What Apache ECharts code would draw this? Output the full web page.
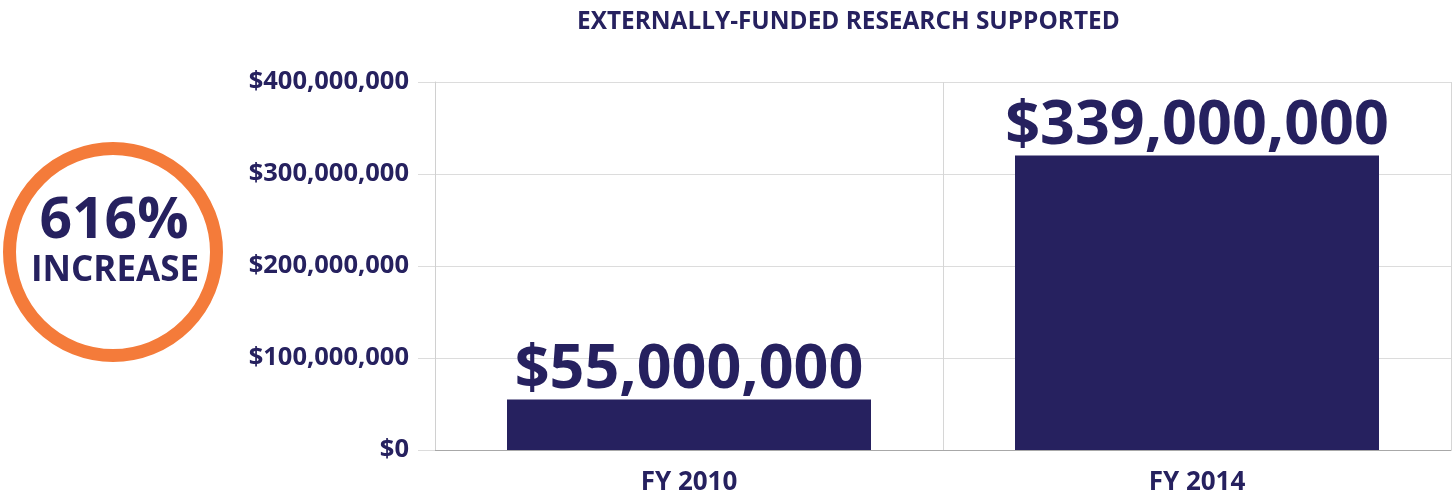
<!DOCTYPE html>
<html>
<head>
<meta charset="utf-8">
<script src="https://cdn.jsdelivr.net/npm/echarts@6/dist/echarts.min.js"></script>
<style>html,body{margin:0;padding:0;background:#fff;}#c{width:1452px;height:492px;}</style>
</head>
<body>
<div id="c"></div>
<script>
const categories = ['FY 2010', 'FY 2014'];
const values = [55000000, 320000000];
const valueLabels = ['$55,000,000', '$339,000,000'];
const yTicks = [0, 100000000, 200000000, 300000000, 400000000];
const titleText = 'EXTERNALLY-FUNDED RESEARCH SUPPORTED';
const badgeTop = '616%';
const badgeBottom = 'INCREASE';

const NAVY = '#26215f';
const FONT = '"Open Sans", sans-serif';

function fmt(v) {
  return '$' + v.toLocaleString('en-US');
}

const chart = echarts.init(document.getElementById('c'), null, {renderer: 'canvas'});
chart.setOption({
  animation: false,
  grid: {left: 435, right: 1, top: 82, bottom: 42, outerBoundsMode: 'none', containLabel: false},
  xAxis: {
    type: 'category',
    data: categories,
    axisLine: {show: true, lineStyle: {color: '#a8a8a8', width: 1}},
    axisTick: {show: false},
    splitLine: {show: true, lineStyle: {color: '#d6d6d6', width: 1}},
    axisLabel: {color: NAVY, fontFamily: FONT, fontWeight: 'bold', fontSize: 26, margin: 20}
  },
  yAxis: {
    type: 'value',
    min: yTicks[0],
    max: yTicks[yTicks.length - 1],
    interval: yTicks[1] - yTicks[0],
    axisLine: {show: true, lineStyle: {color: '#d0d0d0', width: 1}},
    axisTick: {show: true, length: 17, lineStyle: {color: '#dcdcdc'}},
    splitLine: {show: true, lineStyle: {color: '#dcdcdc', width: 1}},
    axisLabel: {color: NAVY, fontFamily: FONT, fontWeight: 'bold', fontSize: 25.5, margin: 26,
      formatter: v => fmt(v)}
  },
  series: [{
    type: 'bar',
    data: values,
    barWidth: 364,
    itemStyle: {color: NAVY},
    label: {
      show: true,
      position: 'top',
      distance: -2,
      color: NAVY,
      fontFamily: FONT,
      fontWeight: 'bold',
      fontSize: 61,
      formatter: p => valueLabels[p.dataIndex]
    }
  }],
  graphic: [
    {type: 'text', x: 577, y: 22, scaleX: 0.975, style: {text: titleText, fill: NAVY, font: 'bold 25px "Open Sans"', verticalAlign: 'middle'}},
    {type: 'circle', shape: {cx: 113, cy: 252, r: 103.5}, style: {fill: 'none', stroke: '#f47b3a', lineWidth: 13}},
    {type: 'text', x: 114, y: 222, style: {text: badgeTop, fill: NAVY, font: 'bold 57px "Open Sans"', align: 'center', verticalAlign: 'middle'}},
    {type: 'text', x: 115, y: 271, style: {text: badgeBottom, fill: NAVY, font: 'bold 35px "Open Sans"', align: 'center', verticalAlign: 'middle'}}
  ]
});
</script>
</body>
</html>
